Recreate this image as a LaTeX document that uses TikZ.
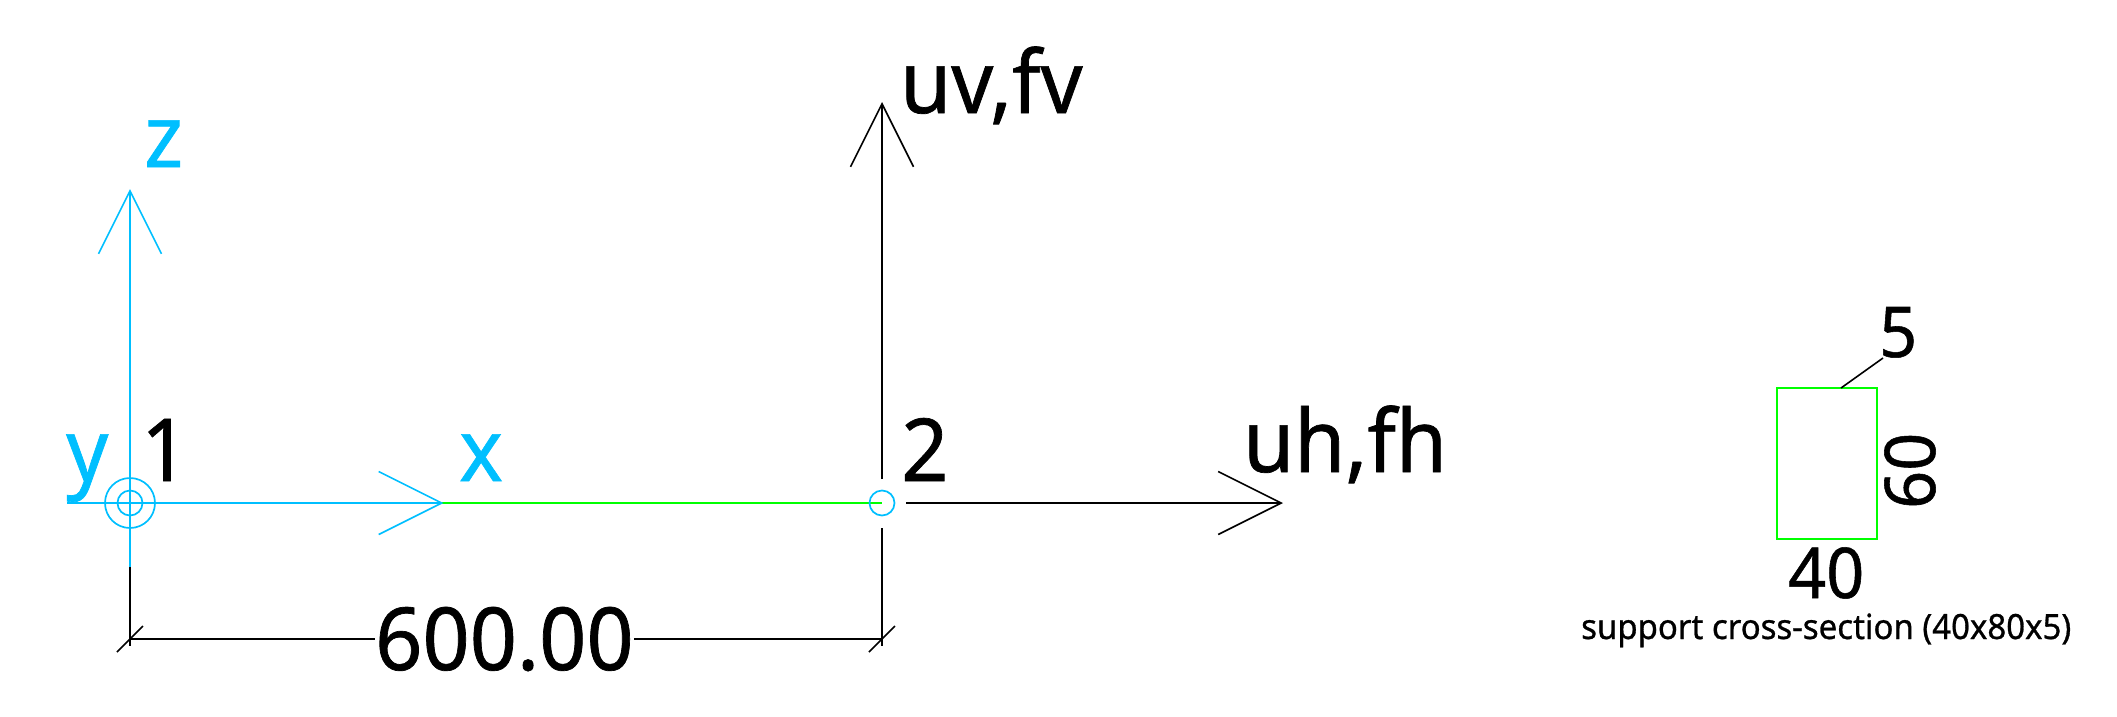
\documentclass[tikz,border=0pt]{standalone}
\usepackage{fontspec}
\setmainfont[FakeStretch=0.95,FakeBold=0.8]{Noto Sans}
\usetikzlibrary{arrows.meta}
\definecolor{AxisColor}{rgb}{0.0,0.749,1.0}
\definecolor{BeamColor}{rgb}{0.0,1.0,0.0}
\tikzstyle{barb-arrow}=[-{Straight Barb[length=63pt,width=63pt]},line width=1.6pt]
\tikzstyle{label-base}=[inner sep=0pt,
                        anchor=base west,
                        font=\fontsize{87}{87}\selectfont]
\tikzstyle{section-label}=[label-base, font=\fontsize{70}{70}\selectfont]
\tikzstyle{axis-label}=[label-base, text=AxisColor]
\tikzstyle{ring}=[circle, draw=AxisColor, line width=1.7pt, inner sep=0pt]

\begin{document}
\begin{tikzpicture}[x=1pt,y=-1pt]
    \useasboundingbox (0,0) rectangle (2117,716);

    % Points
    % --------------------------------------------------------------------------
    \coordinate (origin) at (130, 503);
    \coordinate (x_start) at (67, 503);
    \coordinate (x_tip) at (443.5, 503);
    \coordinate (z_tip) at (130, 189);
    \coordinate (z_end) at (130, 567);
    \coordinate (support_end) at (130, 646);
    \coordinate (dim_l) at (130, 639);
    \coordinate (dim_r) at (882, 639);
    \coordinate (tick_l_a) at (117, 652);
    \coordinate (tick_l_b) at (143, 626);
    \coordinate (tick_r_a) at (869, 652);
    \coordinate (tick_r_b) at (895, 626);
    \coordinate (end_2) at (882, 503);
    \coordinate (uv_tip) at (882, 102);
    \coordinate (uv_start) at (882, 479);
    \coordinate (ext_top) at (882, 528);
    \coordinate (ext_bottom) at (882, 646);
    \coordinate (uh_start) at (906, 503);
    \coordinate (uh_tip) at (1283, 503);
    \coordinate (leader_a) at (1841, 388);
    \coordinate (leader_b) at (1883, 358);

    % Beam and axes
    % --------------------------------------------------------------------------
    \draw[BeamColor, line width=2pt] (origin) -- (end_2);
    \draw[black, line width=1.6pt] (z_end) -- (support_end);
    \draw[AxisColor, line width=1.6pt] (x_start) -- (origin);
    \draw[barb-arrow, AxisColor] (origin) -- (x_tip);
    \draw[barb-arrow, AxisColor] (z_end) -- (z_tip);

    \node at (origin) (node_1_outer) [ring, minimum size=50pt] {};
    \node at (origin) (node_1_inner) [ring, minimum size=25pt] {};
    \node at (end_2) (node_2) [ring, minimum size=25pt] {};

    % Loads
    % --------------------------------------------------------------------------
    \draw[barb-arrow] (uv_start) -- (uv_tip);
    \draw[barb-arrow] (uh_start) -- (uh_tip);

    % Dimension
    % --------------------------------------------------------------------------
    \draw[line width=1.6pt] (ext_top) -- (ext_bottom);
    \draw[line width=1.6pt] (dim_l) -- (dim_r);
    \draw[line width=1.6pt] (tick_l_a) -- (tick_l_b);
    \draw[line width=1.6pt] (tick_r_a) -- (tick_r_b);

    % Labels
    % --------------------------------------------------------------------------
    \node at (144, 167) (label_z) [axis-label] {z};
    \node at (66, 481) (label_y) [axis-label] {y};
    \node at (459, 481) (label_x) [axis-label] {x};
    \node at (141, 481) (label_1) [label-base] {1};
    \node at (901, 481) (label_2) [label-base] {2};
    \node at (900, 113) (label_uv) [label-base] {uv,fv};
    \node at (1243, 472) (label_uh) [label-base] {uh,fh};
    \node at (375, 670) (label_dim) [label-base, fill=white] {600.00};

    % Cross-section
    % --------------------------------------------------------------------------
    \node at (1826.8, 463.3) (section) [draw=BeamColor, line width=2pt, inner sep=0pt,
                                        minimum width=100pt, minimum height=151pt] {};
    \draw[line width=1.6pt] (leader_a) -- (leader_b);
    \node at (1879, 357) (label_5) [section-label] {5};
    \node at (1935, 509) (label_60) [section-label, rotate=90] {60};
    \node at (1788, 598) (label_40) [section-label] {40};
    \node at (1581, 639) (label_section) [label-base, font=\fontsize{34.7}{34.7}\selectfont]
        {support cross-section (40x80x5)};
\end{tikzpicture}
\end{document}
